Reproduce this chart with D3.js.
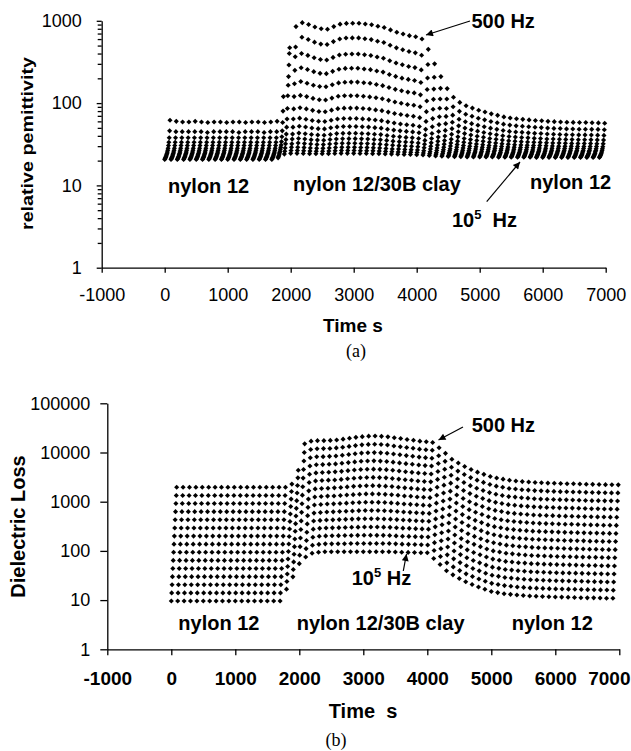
<!DOCTYPE html>
<html>
<head>
<meta charset="utf-8">
<script src="https://d3js.org/d3.v7.min.js"></script>
<style>
  body { margin: 0; background: #fff; overflow: hidden; }
  svg { display: block; font-family: "Liberation Sans", Arial, sans-serif; }
  .axis path, .axis line { stroke: #000; stroke-width: 1.3; }
  .axis text { fill: #000; }
  .bold { font-weight: bold; }
  .pre { white-space: pre; }
</style>
</head>
<body>
<script>
// sweep start times (s); each sweep runs from 1e5 Hz down to 500 Hz
var sweepTimes = [0,100,200,300,400,500,600,700,800,900,1000,1100,1200,1300,1400,1500,1600,1700,1800,1900,
  2000,2100,2200,2300,2400,2500,2600,2700,2800,2900,3000,3100,3200,3300,3400,3500,3600,3700,3800,3900,
  4000,4100,4200,4300,4400,4500,4600,4700,4800,4900,5000,5100,5200,5300,5400,5500,5600,5700,5800,5900,
  6000,6100,6200,6300,6400,6500,6600,6700,6800,6900];
// frequencies, 500 Hz (top row) to 1e5 Hz (bottom row)
var frequencies = [500,730,1070,1560,2270,3320,4840,7070,10300,15100,22000,32100,46900,68500,100000];
// delay of each frequency's reading after the start of its sweep (s)
var sweepLag = [84,78,72,66,60,54,48,42,36,30,24,18,12,6,0];

var timeTicks = [-1000,0,1000,2000,3000,4000,5000,6000,7000];
var permTicks = [1,10,100,1000];
var permMinorTicks = [2,3,4,5,6,7,8,9,20,30,40,50,60,70,80,90,200,300,400,500,600,700,800,900];
var lossTicks = [1,10,100,1000,10000,100000];

// (a) relative permittivity, one row per frequency, one value per sweep
var permittivity = [
  [62,60,59,59,60,59,58,59,59,58,59,59,58,59,59,58,59,60, 120,470,850,
   950,900,840,800,790,850,910,930,935,935,915,895,860,830,775,725,690,660,640,600,
   450,300,210,150,118,102,93,87,82,78,74,71,68,66,64.5,63.5,62.5,61.5,61,60,59.5,59,58.5,58.3,58,58,57.8,57.5,57],
  [46,45,45,45,45,45,44,45,45,45,45,44,45,45,45,44,45,45, 80,400,480,
   632,593,550,521,516,559,602,617,620,620,606,591,565,544,504,469,444,423,408,381,
   295,206,151,112,90.3,79.4,73.2,69.1,65.5,62.6,59.8,57.6,55.5,54,52.9,52.3,51.5,50.8,50.4,49.7,49.3,49.1,48.6,48.5,48.2,48.2,48,47.9,47.5],
  [38,38,38,38,38,38,38,38,38,38,38,38,38,38,38,38,38,38, 58,290,365,
   401,380,355,338,334,359,384,393,395,395,387,378,363,350,327,307,292,279,270,253,
   202,148,112,86,71.4,63.7,59.4,56.3,53.7,51.7,49.6,48,46.5,45.3,44.5,44.1,43.5,42.9,42.7,42.2,41.8,41.6,41.3,41.3,41.1,41.1,41,40.8,40.5],
  [33.5,33.5,33.5,33.5,33.5,33.5,33.5,33.5,33.5,33.5,33.5,33.5,33.5,33.5,33.5,33.5,33.5,33.5, 46,210,250,
   269,256,241,230,228,243,258,264,265,265,260,255,246,238,223,211,201,194,188,178,
   146,111,86.7,68.9,58.4,52.9,49.7,47.5,45.6,44,42.5,41.2,40.1,39.2,38.6,38.2,37.8,37.3,37.2,36.7,36.6,36.4,36.2,36.1,35.9,35.9,35.8,35.7,35.5],
  [30.5,30.5,30.5,30.5,30.5,30.5,30.5,30.5,30.5,30.5,30.5,30.5,30.5,30.5,30.5,30.5,30.5,30.5, 39,165,172,
   183,174,165,159,158,167,176,179,180,180,177,174,168,163,155,147,141,136,133,126,
   106,84.2,68.4,56.3,48.9,44.9,42.6,40.9,39.6,38.4,37.2,36.3,35.5,34.8,34.4,34,33.7,33.4,33.3,33,32.8,32.7,32.5,32.4,32.3,32.3,32.3,32.1,32],
  [28.3,28.3,28.3,28.3,28.3,28.3,28.3,28.3,28.3,28.3,28.3,28.3,28.3,28.3,28.3,28.3,28.3,28.3, 34,123,120,
   124,120,114,110,109,115,121,123,123,123,121,119,116,113,108,103,99.5,96.3,94.2,90.2,
   78.7,64.8,54.8,46.6,41.7,38.9,37.2,36,35.1,34.3,33.4,32.7,32,31.6,31.2,31,30.8,30.6,30.5,30.3,30.1,30,29.8,29.8,29.7,29.7,29.7,29.6,29.5],
  [26.7,26.7,26.7,26.7,26.7,26.7,26.7,26.7,26.7,26.7,26.7,26.7,26.7,26.7,26.7,26.7,26.7,26.7, 31,86,85,
   87.8,85,81.6,79.2,78.6,82.1,85.6,86.8,87,87,86,84.8,82.7,81,77.7,74.7,72.6,70.6,69.3,66.6,
   59.9,51.5,45.1,39.8,36.4,34.5,33.4,32.5,31.9,31.2,30.6,30.1,29.7,29.3,29.1,28.9,28.8,28.6,28.5,28.3,28.2,28.2,28.1,28.1,28,28,27.9,27.9,27.8],
  [25.4,25.4,25.4,25.4,25.4,25.4,25.4,25.4,25.4,25.4,25.4,25.4,25.4,25.4,25.4,25.4,25.4,25.4, 29,64,64,
   65.6,63.7,61.5,60.1,59.7,61.9,64.1,64.9,65,65,64.3,63.5,62.3,61.2,59.2,57.3,55.8,54.5,53.7,52,
   48,42.8,38.6,35,32.7,31.3,30.5,29.9,29.5,29,28.6,28.2,27.9,27.6,27.4,27.4,27.2,27,27,26.9,26.8,26.7,26.7,26.7,26.6,26.6,26.6,26.6,26.5],
  [24.4,24.4,24.4,24.4,24.4,24.4,24.4,24.4,24.4,24.4,24.4,24.4,24.4,24.4,24.4,24.4,24.4,24.4, 27.5,51,51,
   52.4,51.2,49.8,48.9,48.6,50.1,51.4,51.9,52,52,51.5,51.1,50.3,49.6,48.2,47,46,45.3,44.7,43.6,
   40.8,37.2,34.3,31.7,30.1,29.1,28.5,28.1,27.7,27.4,27.1,26.8,26.5,26.3,26.2,26.1,26,25.9,25.9,25.8,25.7,25.7,25.7,25.6,25.6,25.6,25.6,25.6,25.5],
  [23.5,23.5,23.5,23.5,23.5,23.5,23.5,23.5,23.5,23.5,23.5,23.5,23.5,23.5,23.5,23.5,23.5,23.5, 26,42,42,
   43.2,42.4,41.5,40.9,40.7,41.6,42.6,42.9,43,43,42.7,42.4,41.8,41.4,40.4,39.6,38.9,38.3,38,37.1,
   35.2,32.9,30.9,29.1,27.9,27.2,26.8,26.5,26.2,26,25.8,25.6,25.3,25.2,25.1,25.1,25,24.9,24.9,24.8,24.8,24.8,24.7,24.7,24.7,24.7,24.6,24.6,24.6],
  [22.8,22.8,22.8,22.8,22.8,22.8,22.8,22.8,22.8,22.8,22.8,22.8,22.8,22.8,22.8,22.8,22.8,22.8, 25,36,36.5,
   37.2,36.6,35.9,35.5,35.3,36.1,36.7,36.9,37,37,36.8,36.6,36.1,35.8,35.2,34.5,34,33.7,33.4,32.8,
   31.6,29.9,28.5,27.2,26.4,25.8,25.5,25.3,25.1,24.9,24.7,24.6,24.5,24.4,24.3,24.2,24.2,24.1,24.1,24.1,24,24,24,24,24,23.9,23.9,23.9,23.9],
  [22.2,22.2,22.2,22.2,22.2,22.2,22.2,22.2,22.2,22.2,22.2,22.2,22.2,22.2,22.2,22.2,22.2,22.2, 24,32,32,
   32.7,32.2,31.8,31.4,31.3,31.8,32.3,32.5,32.5,32.5,32.3,32.2,31.9,31.7,31.2,30.7,30.4,30.1,29.9,29.5,
   28.7,27.6,26.6,25.7,25.1,24.7,24.5,24.3,24.2,24.1,23.9,23.8,23.7,23.6,23.6,23.6,23.5,23.5,23.5,23.4,23.4,23.4,23.4,23.4,23.3,23.3,23.3,23.3,23.3],
  [21.6,21.6,21.6,21.6,21.6,21.6,21.6,21.6,21.6,21.6,21.6,21.6,21.6,21.6,21.6,21.6,21.6,21.6, 23,28.5,29,
   29.1,28.8,28.5,28.2,28.2,28.5,28.9,29,29,29,28.9,28.8,28.6,28.4,28.1,27.7,27.6,27.3,27.2,26.9,
   26.4,25.6,25,24.4,24,23.8,23.6,23.5,23.4,23.3,23.2,23.2,23.1,23,23,23,23,22.9,22.9,22.9,22.9,22.9,22.8,22.8,22.8,22.8,22.8,22.8,22.8],
  [21.1,21.1,21.1,21.1,21.1,21.1,21.1,21.1,21.1,21.1,21.1,21.1,21.1,21.1,21.1,21.1,21.1,21.1, 22.3,26,26.5,
   26.6,26.4,26.1,26,26,26.2,26.4,26.5,26.5,26.5,26.4,26.4,26.3,26.1,25.9,25.7,25.5,25.4,25.3,25.1,
   24.8,24.3,23.9,23.4,23.1,23,22.9,22.8,22.7,22.7,22.6,22.6,22.5,22.5,22.5,22.4,22.4,22.4,22.4,22.4,22.4,22.3,22.3,22.3,22.3,22.3,22.3,22.3,22.3],
  [20.6,20.6,20.6,20.6,20.6,20.6,20.6,20.6,20.6,20.6,20.6,20.6,20.6,20.6,20.6,20.6,20.6,20.6, 21.6,24,24.5,
   24.5,24.4,24.3,24.2,24.2,24.3,24.4,24.5,24.5,24.5,24.4,24.4,24.3,24.3,24.1,24,23.9,23.8,23.8,23.6,
   23.4,23.1,22.8,22.6,22.4,22.3,22.3,22.2,22.2,22.1,22.1,22.1,22,22,22,22,22,22,21.9,21.9,21.9,21.9,21.9,21.9,21.9,21.9,21.9,21.9,21.9]
];

// (b) dielectric loss, same layout
var dielectricLoss = [
  [1960,1960,1960,1960,1960,1960,1960,1960,1960,1960,1960,1960,1960,1960,1960,1960,1960,1960, 2280,4360,
   15000,17000,17400,17400,17600,18000,18700,19500,20300,21000,21500,21600,21300,20800,20000,19200,18400,17700,17000,16500,16000,
   12500,9600,7290,6100,5190,4500,3990,3600,3250,3030,2870,2720,2640,2560,2510,2450,2420,2390,2370,2340,2320,2310,2290,2270,2250,2240,2220,2210,2200],
  [1340,1340,1340,1340,1340,1340,1340,1340,1340,1340,1340,1340,1340,1340,1340,1340,1340,1340, 1610,3050,
   10000,11500,11900,12000,12100,12400,12800,13300,13800,14300,14600,14700,14500,14200,13600,13100,12600,12200,11700,11400,11100,
   8610,6610,5020,4190,3560,3090,2740,2470,2230,2070,1960,1860,1810,1750,1720,1680,1660,1640,1620,1600,1590,1580,1570,1550,1540,1530,1520,1510,1510],
  [916,916,916,916,916,916,916,916,916,916,916,916,916,916,916,916,916,916, 1130,2130,
   6730,7820,8180,8240,8360,8510,8790,9120,9440,9730,9910,9950,9840,9640,9330,8990,8650,8370,8070,7850,7660,
   5960,4570,3460,2890,2450,2120,1880,1690,1530,1420,1340,1270,1240,1200,1180,1150,1130,1120,1110,1100,1090,1080,1070,1060,1050,1050,1040,1040,1030],
  [627,627,627,627,627,627,627,627,627,627,627,627,627,627,627,627,627,627, 798,1500,
   4510,5310,5620,5680,5750,5860,6030,6240,6440,6620,6730,6760,6680,6560,6370,6150,5930,5750,5560,5420,5300,
   4110,3150,2380,1990,1690,1460,1290,1160,1050,971,920,872,846,821,805,785,776,766,760,750,744,741,734,728,721,718,712,709,705],
  [429,429,429,429,429,429,429,429,429,429,429,429,429,429,429,429,429,429, 562,1050,
   3020,3610,3850,3910,3960,4040,4140,4280,4400,4500,4580,4590,4550,4480,4350,4210,4060,3950,3830,3740,3660,
   2840,2170,1640,1370,1160,1000,889,798,721,665,630,597,579,562,551,538,531,524,520,513,509,507,502,498,494,491,487,485,483],
  [293,293,293,293,293,293,293,293,293,293,293,293,293,293,293,293,293,293, 396,733,
   2020,2450,2650,2690,2740,2770,2840,2920,3000,3060,3110,3120,3090,3050,2970,2880,2790,2720,2640,2580,2530,
   1960,1500,1130,942,798,689,610,548,494,455,431,409,397,385,377,368,363,359,356,351,348,347,344,341,338,336,333,332,330],
  [200,200,200,200,200,200,200,200,200,200,200,200,200,200,200,200,200,200, 279,513,
   1360,1660,1820,1850,1880,1910,1950,2000,2050,2080,2110,2120,2100,2070,2030,1970,1910,1870,1820,1780,1750,
   1350,1030,778,647,547,473,418,376,338,311,295,280,271,263,258,252,249,246,244,241,238,237,235,233,231,230,228,227,226],
  [137,137,137,137,137,137,137,137,137,137,137,137,137,137,137,137,137,137, 196,358,
   908,1130,1250,1280,1300,1310,1340,1370,1390,1420,1440,1440,1430,1410,1380,1350,1310,1290,1250,1230,1210,
   935,713,536,446,377,325,288,258,232,213,202,191,186,180,176,172,170,168,167,165,163,162,161,160,158,157,156,155,155],
  [93.8,93.8,93.8,93.8,93.8,93.8,93.8,93.8,93.8,93.8,93.8,93.8,93.8,93.8,93.8,93.8,93.8,93.8, 138,251,
   608,767,857,879,895,904,918,935,951,966,977,977,971,962,946,923,899,883,865,851,838,
   646,491,369,306,259,223,197,177,159,146,138,131,127,123,121,118,116,115,114,113,112,111,110,109,108,108,107,106,106],
  [64.1,64.1,64.1,64.1,64.1,64.1,64.1,64.1,64.1,64.1,64.1,64.1,64.1,64.1,64.1,64.1,64.1,64.1, 97.3,175,
   407,521,587,605,617,622,631,640,649,658,664,664,661,655,646,632,618,608,596,587,579,
   447,340,254,211,178,153,136,122,109,100,94.7,89.8,87.1,84.5,82.8,80.9,79.9,78.9,78.2,77.2,76.6,76.2,75.6,74.9,74.3,73.9,73.3,72.9,72.6],
  [43.9,43.9,43.9,43.9,43.9,43.9,43.9,43.9,43.9,43.9,43.9,43.9,43.9,43.9,43.9,43.9,43.9,43.9, 68.4,122,
   273,354,404,417,426,428,433,438,443,448,451,451,449,446,442,433,424,418,411,406,401,
   308,234,175,145,122,105,93.1,83.4,75,68.2,64.6,61.2,59.4,57.6,56.5,55.1,54.5,53.8,53.3,52.7,52.2,52,51.5,51.1,50.6,50.4,50,49.7,49.5],
  [30,30,30,30,30,30,30,30,30,30,30,30,30,30,30,30,30,30, 48.2,85.7,
   183,240,277,287,293,294,297,300,302,304,306,306,305,304,301,296,290,287,283,280,277,
   213,161,120,99.8,84.1,72.4,63.8,57.1,51.4,46.7,44.2,41.9,40.7,39.4,38.7,37.7,37.3,36.8,36.5,36,35.7,35.6,35.3,35,34.7,34.5,34.2,34,33.9],
  [20.5,20.5,20.5,20.5,20.5,20.5,20.5,20.5,20.5,20.5,20.5,20.5,20.5,20.5,20.5,20.5,20.5,20.5, 33.9,59.8,
   122,163,190,198,202,203,204,205,206,207,208,208,207,207,206,202,199,197,195,193,191,
   147,111,83.2,68.9,57.9,49.8,44,39.3,35.2,32.1,30.4,28.8,28,27.1,26.6,26,25.7,25.3,25.1,24.8,24.6,24.5,24.3,24.1,23.9,23.7,23.5,23.4,23.3],
  [14,14,14,14,14,14,14,14,14,14,14,14,14,14,14,14,14,14, 23.9,41.9,
   82,111,130,136,139,139,140,140,141,141,141,141,141,141,141,139,137,136,135,133,132,
   102,76.7,57.1,47.3,39.8,34.2,30.1,26.9,24.2,21.9,20.8,19.7,19.1,18.5,18.1,17.7,17.5,17.3,17.1,16.9,16.8,16.7,16.6,16.4,16.3,16.2,16.1,16,15.9],
  [9.6,9.6,9.6,9.6,9.6,9.6,9.6,9.6,9.6,9.6,9.6,9.6,9.6,9.6,9.6,9.6,9.6,9.6, 16.7,29.7,
   55,75,89.5,93.8,96,96,96,96,96,96,96,96,96,96,96,94.8,93.8,93.3,92.7,92,91.6,
   70.3,53,39.4,32.6,27.4,23.6,20.7,18.5,16.6,15,14.2,13.5,13.1,12.7,12.4,12.1,12,11.8,11.7,11.6,11.5,11.4,11.3,11.2,11.1,11.1,11,10.9,10.9]
];

var width = 631, height = 751;

var svg = d3.select('body').append('svg')
  .attr('width', width)
  .attr('height', height);

svg.append('defs').append('marker')
  .attr('id', 'arrowhead')
  .attr('viewBox', '0 0 10 10')
  .attr('refX', 10).attr('refY', 5)
  .attr('markerUnits', 'userSpaceOnUse')
  .attr('markerWidth', 9).attr('markerHeight', 7)
  .attr('orient', 'auto')
  .append('path').attr('d', 'M0,0 L10,5 L0,10 Z').attr('fill', '#000');

var marker = d3.symbol().type(d3.symbolSquare).size(13);

function drawPanel(p) {
  var g = svg.append('g');

  var x = d3.scaleLinear().domain([-1000, 7000]).range(p.xRange);
  var y = d3.scaleLog().domain(p.yDomain).range(p.yRange);

  // flatten the rows: each reading sits a little later than its sweep start
  var points = [];
  p.rows.forEach(function (row, i) {
    row.forEach(function (v, k) {
      points.push({ t: sweepTimes[k] + sweepLag[i], v: v, f: frequencies[i] });
    });
  });

  g.append('g').selectAll('path')
    .data(points)
    .enter().append('path')
    .attr('d', marker)
    .attr('fill', '#000')
    .attr('transform', function (d) {
      return 'translate(' + x(d.t) + ',' + y(d.v) + ') rotate(45)';
    });

  var xAxis = d3.axisBottom(x)
    .tickValues(timeTicks)
    .tickFormat(function (d) { return String(d); })
    .tickSizeInner(p.xTickSize).tickSizeOuter(0)
    .tickPadding(p.xTickPad);

  var gx = g.append('g')
    .attr('class', 'axis')
    .attr('transform', 'translate(0,' + p.yRange[0] + ')')
    .call(xAxis);
  gx.selectAll('text')
    .attr('font-size', p.xFont)
    .attr('font-family', '"Liberation Sans", Arial, sans-serif')
    .attr('font-weight', p.xBold ? 'bold' : 'normal');

  // keep the last time label inside the page
  if (p.lastLabelEnd) {
    gx.selectAll('.tick').filter(function (d) { return d === 7000; })
      .select('text')
      .attr('text-anchor', 'end')
      .attr('x', p.lastLabelEnd - x(7000));
  }

  var yAxis = d3.axisLeft(y)
    .tickValues(p.yTicks)
    .tickFormat(function (d) { return String(d); })
    .tickSizeInner(p.yTickSize).tickSizeOuter(0)
    .tickPadding(p.yTickPad);

  var gy = g.append('g')
    .attr('class', 'axis')
    .attr('transform', 'translate(' + p.xRange[0] + ',0)')
    .call(yAxis);
  gy.selectAll('text')
    .attr('font-size', p.yFont)
    .attr('font-family', '"Liberation Sans", Arial, sans-serif');

  if (p.yMinor) {
    var minor = d3.axisLeft(y).tickValues(p.yMinor).tickFormat('').tickSizeInner(4).tickSizeOuter(0);
    var gm = g.append('g')
      .attr('class', 'axis')
      .attr('transform', 'translate(' + p.xRange[0] + ',0)')
      .call(minor);
    gm.select('.domain').remove();
  }
  gx.selectAll('.domain, .tick line').attr('stroke-width', 1.4);
  gy.selectAll('.domain, .tick line').attr('stroke-width', 1.4);

  return { x: x, y: y };
}

function label(txt, x, y, size, cls, anchor) {
  return svg.append('text')
    .attr('x', x).attr('y', y)
    .attr('font-size', size)
    .attr('class', cls || 'bold')
    .attr('text-anchor', anchor || 'start')
    .text(txt);
}

function arrow(x1, y1, x2, y2) {
  svg.append('line')
    .attr('x1', x1).attr('y1', y1).attr('x2', x2).attr('y2', y2)
    .attr('stroke', '#000').attr('stroke-width', 1.2)
    .attr('marker-end', 'url(#arrowhead)');
}

function tenToFive(x, y, gap) {
  var t = svg.append('text')
    .attr('x', x).attr('y', y)
    .attr('font-size', 20)
    .attr('class', 'bold pre');
  t.append('tspan').text('10');
  t.append('tspan').attr('font-size', 13).attr('dy', -8).text('5');
  t.append('tspan').attr('dy', 8).text(gap + 'Hz');
}

// ---- (a) relative permittivity ----
drawPanel({
  rows: permittivity,
  xRange: [101.7, 605.7],
  yRange: [267.7, 20.8],
  yDomain: [1, 1000],
  yTicks: permTicks,
  yMinor: permMinorTicks,
  xTickSize: 5, xTickPad: 16, xFont: 18, xBold: false,
  yTickSize: 5, yTickPad: 15, yFont: 18
});

svg.append('text')
  .attr('transform', 'translate(33,143.5) rotate(-90)')
  .attr('text-anchor', 'middle')
  .attr('font-size', 16)
  .attr('class', 'bold')
  .attr('textLength', 173)
  .attr('lengthAdjust', 'spacingAndGlyphs')
  .text('relative pemittivity');

label('Time s', 353, 332, 19, 'bold', 'middle');
label('500 Hz', 471.5, 28.3, 20);
arrow(470, 21, 426, 35);
label('nylon 12', 168, 193, 20);
label('nylon 12/30B clay', 293, 191, 20);
label('nylon 12', 530, 189, 20);
tenToFive(452, 226.7, '  ');
arrow(486.7, 201.7, 520, 162);
label('(a)', 356, 357, 18, 'serif', 'middle').attr('font-family', '"Liberation Serif", "Times New Roman", serif');

// ---- (b) dielectric loss ----
drawPanel({
  rows: dielectricLoss,
  xRange: [107.3, 619.3],
  yRange: [649.3, 403.3],
  yDomain: [1, 100000],
  yTicks: lossTicks,
  yMinor: null,
  xTickSize: 6, xTickPad: 16, xFont: 19, xBold: true,
  yTickSize: 7, yTickPad: 10, yFont: 18,
  lastLabelEnd: 630
});

svg.append('text')
  .attr('transform', 'translate(25,526.5) rotate(-90)')
  .attr('text-anchor', 'middle')
  .attr('font-size', 20)
  .attr('class', 'bold')
  .text('Dielectric Loss');

label('Time  s', 363, 718, 20, 'bold pre', 'middle');
label('500 Hz', 471.7, 431.7, 20);
arrow(463, 427, 438.5, 440);
label('nylon 12', 178.3, 630, 20);
label('nylon 12/30B clay', 296.7, 630, 20);
label('nylon 12', 511.7, 630, 20);
tenToFive(351.7, 585, ' ');
arrow(403.3, 571, 406.5, 554);
label('(b)', 336, 746, 18, 'serif', 'middle').attr('font-family', '"Liberation Serif", "Times New Roman", serif');
</script>
</body>
</html>
